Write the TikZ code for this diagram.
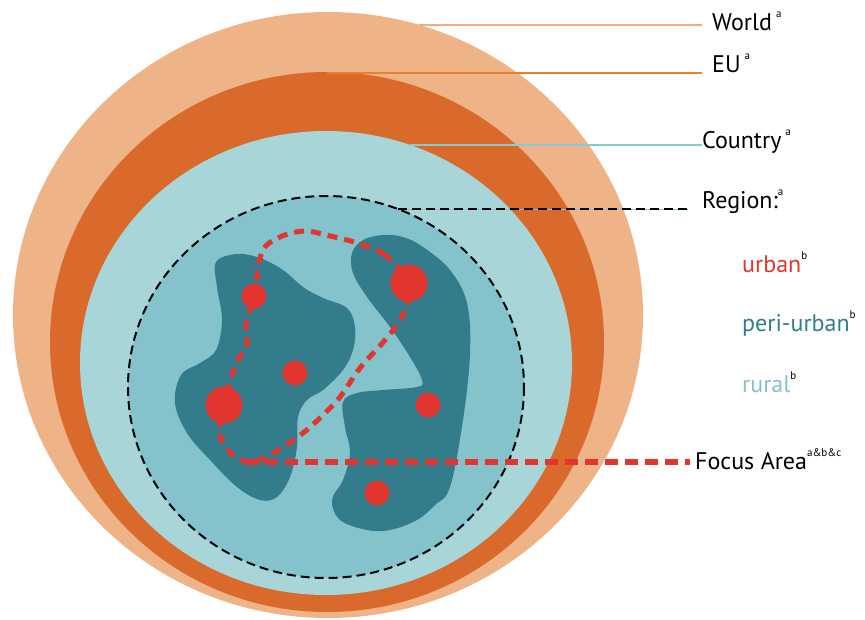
\documentclass[tikz,border=0pt]{standalone}
\usepackage{fontspec}
\setmainfont{PT Sans}
\usepackage{xcolor}
\usetikzlibrary{positioning}
\definecolor{worldc}{HTML}{EEB386}
\definecolor{euc}{HTML}{D96A2C}
\definecolor{countryc}{HTML}{A8D5D8}
\definecolor{regionc}{HTML}{84C3CC}
\definecolor{periurbanc}{HTML}{337C8B}
\definecolor{urbanc}{HTML}{E2352F}
\definecolor{worldline}{HTML}{F0AE7C}
\definecolor{euline}{HTML}{E8802E}
\definecolor{countryline}{HTML}{86CAD3}
\newcommand{\supmark}[1]{\raisebox{13pt}{\fontsize{11}{11}\selectfont #1}}

\begin{document}
\begin{tikzpicture}[x=1pt, y=-1pt,
    lbl/.style={anchor=base west, inner sep=0pt, font=\fontsize{24}{24}\selectfont},
    lead/.style={line width=1.6pt, shorten >=10pt},
    dot/.style={circle, fill=urbanc, inner sep=0pt},
    regiondash/.style={black, line width=2pt, dash pattern=on 9pt off 5pt},
    focusdash/.style={urbanc, line width=5pt, dash pattern=on 10pt off 7pt},
    focusline/.style={urbanc, line width=6.5pt, dash pattern=on 13pt off 7pt}
]
\useasboundingbox (0,0) rectangle (865,619);
\fill[worldc] (328,315) ellipse (315 and 303);
\fill[euc] (327,342) ellipse (277 and 270);
\fill[countryc] (326,363) ellipse (246 and 232);
\fill[regionc] (326,387) ellipse (198 and 191);
\fill[periurbanc] plot[smooth cycle, tension=0.6] coordinates {
    (216,262) (237,254) (260,258) (283,270) (303,287) (323,298) (347,308)
    (355,327) (353,350) (343,370) (323,390) (307,400) (298,417) (297,447)
    (290,477) (277,497) (260,500) (237,487) (210,460) (187,433) (175,403)
    (181,375) (200,363) (216,350) (222,320) (217,287)};
\fill[periurbanc] plot[smooth cycle, tension=0.6] coordinates {
    (383,235) (363,240) (352,253) (353,273) (367,297) (390,327) (410,357)
    (422,380) (417,387) (383,390) (357,393) (343,402) (345,427) (350,453)
    (343,480) (332,500) (340,520) (367,530) (390,530) (417,520) (435,505)
    (450,487) (463,420) (470,353) (467,303) (450,270) (423,247) (403,237)};
\draw[regiondash] (326,387) ellipse (198 and 191);

\coordinate (wstart) at (419,25);
\coordinate (eustart) at (327,73);
\coordinate (cstart) at (410,145);
\coordinate (rstart) at (398,209);
\coordinate (fstart) at (245,462);

\node[lbl] (world) at (712,30) {World\,\supmark{a}};
\node[lbl] (eu) at (712,72) {EU\,\supmark{a}};
\node[lbl] (country) at (702,148) {Country\,\supmark{a}};
\node[lbl] (region) at (702,208) {Region:\supmark{a}};
\node[lbl, text=urbanc] (urban) at (742,272) {urban\textcolor{black}{\supmark{b}}};
\node[lbl, text=periurbanc] (periurban) at (742,331) {peri-urban\textcolor{black}{\supmark{b}}};
\node[lbl, text=regionc] (rural) at (742,392) {rural\textcolor{black}{\supmark{b}}};
\node[lbl] (focus) at (695,469) {Focus Area\supmark{a\&b\&c}};

\draw[lead, worldline] (wstart) -- (wstart -| world.west);
\draw[lead, euline] (eustart) -- (eustart -| eu.west);
\draw[lead, countryline, shorten >=0pt] (cstart) -- (cstart -| country.west);
\draw[countryline, line width=1pt, shorten >=14pt] (rstart) -- (rstart -| region.west);
\draw[regiondash, shorten >=14pt] (rstart) -- (rstart -| region.west);

\draw[focusdash] plot[smooth cycle, tension=0.55] coordinates {
    (409,283) (385,255) (357,243) (330,236) (305,231) (280,237) (262,252)
    (254,296) (246,325) (247,345) (235,366) (224,405) (220,435) (233,455)
    (252,462) (275,452) (303,433) (323,415) (340,397) (360,368) (385,340)
    (403,315)};

\node[dot, minimum size=25pt] (u1) at (254,296) {};
\node[dot, minimum size=37pt] (u2) at (409,283) {};
\node[dot, minimum size=25pt] (u3) at (295,373) {};
\node[dot, minimum size=37pt] (u4) at (224,405) {};
\node[dot, minimum size=25pt] (u5) at (428,405) {};
\node[dot, minimum size=25pt] (u6) at (377,493) {};

\draw[focusline, shorten >=5pt] (fstart) -- (fstart -| focus.west);
\end{tikzpicture}
\end{document}
